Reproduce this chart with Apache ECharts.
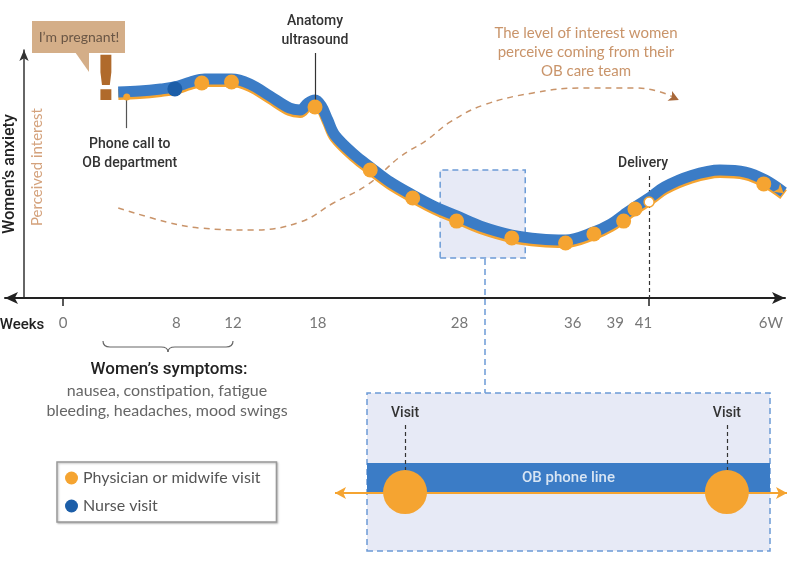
<!DOCTYPE html>
<html>
<head>
<meta charset="utf-8">
<script src="https://cdn.jsdelivr.net/npm/echarts@6/dist/echarts.min.js"></script>
<style>html,body{margin:0;padding:0;background:#fff;}#c{width:807px;height:561px;}</style>
</head>
<body>
<div id="c"></div>
<script>
// ---- data ----
const weekTicks = [0, 8, 12, 18, 28, 36, 39, 41, 50];
const weekLabels = ['0', '8', '12', '18', '28', '36', '39', '41', '6W'];

const curveWeeks   = [3.9, 5.4, 6.9, 7.9, 9.0, 10.0, 11.1, 11.9, 13.2, 14.6, 16.0, 16.75, 17.3, 17.8, 18.25, 18.7, 19.2, 20.6, 21.7, 23.1, 24.7, 26.3, 27.8, 29.5, 31.7, 33.7, 35.5, 37.5, 38.7, 39.6, 40.4, 41.5, 42.5, 44.3, 46.4, 48.2, 49.6, 50.9];
const curveAnxiety = [83.1, 83.5, 84.3, 85.1, 87.1, 88.3, 88.3, 88.3, 86.3, 81.5, 76.6, 75.8, 78.6, 79.8, 77.4, 71.8, 65.7, 57.7, 52.8, 46.8, 41.5, 36.7, 33.1, 29.0, 25.4, 23.8, 23.4, 26.6, 29.8, 33.5, 36.7, 40.7, 44.8, 49.2, 51.6, 50.8, 47.6, 42.7];

const interestWeeks  = [3.9, 7.35, 9.7, 13.4, 16.75, 19.1, 21.5, 23.8, 25.7, 27.35, 29.7, 33.2, 36.75, 40.3, 42.2, 43.5];
const interestValues = [36.3, 30.6, 28.2, 27.4, 30.6, 38.3, 45.6, 56.9, 63.7, 71.0, 77.8, 82.7, 84.7, 84.7, 83.1, 79.8];

const physicianWeeks  = [9.8, 11.9, 17.8, 21.7, 24.7, 27.8, 31.7, 35.5, 37.5, 39.6, 40.4, 49.5];
const physicianValues = [86.7, 87.1, 77.0, 51.6, 40.3, 31.0, 24.2, 22.2, 25.8, 31.0, 35.9, 46.0];
const nurseWeeks  = [7.9];
const nurseValues = [84.3];

const phoneCall = [4.5, 81.0];
const anatomy = [17.8, 79.8];
const delivery = [41.4, 38.7];
const zoomBox = [[26.64, 16.1], [32.65, 51.6]];

// inset (0-100 scale both ways)
const insetBox = [[7.08, 0], [96.24, 100]];
const phoneLine = [[7.08, 46.2], [96.24, 46.2]];
const orangeLine = [[0, 36.7], [100, 36.7]];
const insetVisits = [[15.5, 37.3], [86.7, 37.3]];

// ---- chart ----
const ORANGE = '#f5a431', BLUE = '#3b7cc6', NAVY = '#1c5ea8', TAN = '#c9946a';
const zip = (a, b) => a.map((v, i) => [v, b[i]]);
const labelMap = {};
weekTicks.forEach((t, i) => labelMap[t] = weekLabels[i]);

const chart = echarts.init(document.getElementById('c'), null, {renderer: 'canvas'});

function txt(x, y, text, o) {
  o = o || {};
  return {
    type: 'text', x: x, y: y, rotation: o.rotation || 0, z: 50,
    style: Object.assign({
      text: text, fill: o.fill || '#333',
      fontSize: o.fontSize || 14, fontFamily: o.fontFamily || 'Lato',
      fontWeight: o.fontWeight || 'normal',
      align: 'center', verticalAlign: 'middle',
      textAlign: 'center', textVerticalAlign: 'middle',
      lineHeight: o.lineHeight || 18
    }, o.style || {})
  };
}
const braceStyle = {fill: 'none', stroke: '#666', lineWidth: 1.2};
function bz(x1, y1, cx, cy, x2, y2) {
  return {type: 'bezierCurve', z: 40, shape: {x1: x1, y1: y1, cpx1: cx, cpy1: cy, x2: x2, y2: y2}, style: braceStyle};
}
function ln(x1, y1, x2, y2, style) {
  return {type: 'line', z: 40, shape: {x1: x1, y1: y1, x2: x2, y2: y2}, style: style || braceStyle};
}

const option = {
  animation: false,
  backgroundColor: '#fff',
  grid: [
    {left: 5, right: 22, top: 50, bottom: 263, outerBoundsMode: 'none', containLabel: false},
    {left: 335, top: 393, width: 452, height: 158, outerBoundsMode: 'none', containLabel: false}
  ],
  xAxis: [
    {
      type: 'value', gridIndex: 0, min: -4.1, max: 51,
      splitLine: {show: false},
      axisLine: {onZero: false, symbol: ['arrow', 'arrow'], symbolSize: [9, 13], lineStyle: {color: '#222', width: 2}},
      axisTick: {show: true, customValues: [0, 41.4], length: 8, lineStyle: {color: '#222', width: 1.5}},
      axisLabel: {customValues: weekTicks, formatter: v => labelMap[v] || '', color: '#777', fontFamily: 'Lato', fontSize: 15, margin: 18}
    },
    {type: 'value', gridIndex: 1, min: 0, max: 100, show: false}
  ],
  yAxis: [
    {
      type: 'value', gridIndex: 0, min: 0, max: 100, offset: -19,
      splitLine: {show: false}, axisTick: {show: false}, axisLabel: {show: false},
      axisLine: {show: true, onZero: false, symbol: ['none', 'arrow'], symbolSize: [7, 11], lineStyle: {color: '#333', width: 1.5}},
      name: 'Women\u2019s anxiety', nameLocation: 'middle', nameGap: 6, nameRotate: 90,
      nameTextStyle: {fontFamily: 'Roboto', fontWeight: 500, fontSize: 16, color: '#222'}
    },
    {type: 'value', gridIndex: 1, min: 0, max: 100, show: false}
  ],
  legend: {
    left: 57, top: 462, orient: 'vertical',
    data: ['Physician or midwife visit', 'Nurse visit'],
    icon: 'circle', itemWidth: 13, itemHeight: 13, itemGap: 12,
    padding: [8, 16, 8, 8],
    borderColor: '#999', borderWidth: 1.5, backgroundColor: '#fff',
    shadowColor: 'rgba(0,0,0,0.25)', shadowBlur: 2, shadowOffsetX: 1, shadowOffsetY: 1,
    textStyle: {color: '#555', fontFamily: 'Lato', fontSize: 16}
  },
  series: [
    {
      type: 'line', xAxisIndex: 0, yAxisIndex: 0, data: [], z: 1, silent: true,
      markArea: {
        silent: true,
        itemStyle: {color: '#e7eaf6', borderColor: '#6c9bd6', borderWidth: 1.5, borderType: [6, 4]},
        data: [[{coord: zoomBox[0]}, {coord: zoomBox[1]}]]
      }
    },
    {
      type: 'line', xAxisIndex: 0, yAxisIndex: 0, z: 2, smooth: 0.4, symbol: 'none',
      data: zip(interestWeeks, interestValues),
      lineStyle: {color: TAN, width: 1.5, type: [6, 5]}
    },
    {
      type: 'scatter', xAxisIndex: 0, yAxisIndex: 0, z: 2, symbol: 'arrow', symbolSize: [8, 10], symbolRotate: -115,
      data: [[interestWeeks[interestWeeks.length - 1], interestValues[interestValues.length - 1]]],
      itemStyle: {color: '#a8683a', opacity: 1}
    },
    {
      type: 'line', xAxisIndex: 0, yAxisIndex: 0, z: 3, smooth: 0.35, symbol: 'none',
      data: zip(curveWeeks, curveAnxiety),
      lineStyle: {color: BLUE, width: 11, cap: 'butt', shadowColor: ORANGE, shadowOffsetY: 2.5, shadowBlur: 0}
    },
    {
      type: 'scatter', xAxisIndex: 0, yAxisIndex: 0, z: 3, symbol: 'arrow', symbolSize: [8, 9], symbolRotate: -130,
      data: [[curveWeeks[curveWeeks.length - 1], curveAnxiety[curveAnxiety.length - 1] - 0.5]],
      itemStyle: {color: ORANGE, opacity: 1}
    },
    {
      name: 'Physician or midwife visit', type: 'scatter', xAxisIndex: 0, yAxisIndex: 0, z: 5,
      symbolSize: 15, itemStyle: {color: ORANGE, opacity: 1},
      data: zip(physicianWeeks, physicianValues),
      markLine: {
        silent: true, symbol: 'none',
        lineStyle: {color: '#333', width: 1.2, type: 'solid'},
        label: {show: true, position: 'start', distance: 3, formatter: 'Anatomy\nultrasound',
          fontFamily: 'Roboto', fontWeight: 500, fontSize: 14, color: '#333', lineHeight: 19},
        data: [[{coord: [anatomy[0], 98.8]}, {coord: [anatomy[0], anatomy[1]]}]]
      }
    },
    {
      name: 'Nurse visit', type: 'scatter', xAxisIndex: 0, yAxisIndex: 0, z: 5,
      symbolSize: 15, itemStyle: {color: NAVY, opacity: 1},
      data: zip(nurseWeeks, nurseValues)
    },
    {
      type: 'scatter', xAxisIndex: 0, yAxisIndex: 0, z: 5, symbolSize: 7,
      itemStyle: {color: ORANGE, opacity: 1},
      data: [phoneCall],
      label: {show: true, position: 'bottom', distance: 34, offset: [3, 0], formatter: 'Phone call to\nOB department',
        fontFamily: 'Roboto', fontWeight: 500, fontSize: 14, color: '#333', lineHeight: 19},
      markLine: {
        silent: true, symbol: 'none', label: {show: false},
        lineStyle: {color: '#555', width: 1.2, type: 'solid'},
        data: [[{coord: phoneCall}, {coord: [phoneCall[0], 68.5]}]]
      }
    },
    {
      type: 'scatter', xAxisIndex: 0, yAxisIndex: 0, z: 6, symbolSize: 10,
      itemStyle: {color: '#fff', borderColor: ORANGE, borderWidth: 1.5, opacity: 1},
      data: [delivery],
      markLine: {
        silent: true, symbol: 'none', z: 1,
        lineStyle: {color: '#333', width: 1.2, type: [4, 3]},
        label: {show: true, position: 'start', distance: 5, offset: [-6, 0], formatter: 'Delivery',
          fontFamily: 'Roboto', fontWeight: 500, fontSize: 14, color: '#333'},
        data: [[{coord: [delivery[0], 49.2]}, {coord: [delivery[0], 0]}]]
      }
    },
    {
      type: 'line', xAxisIndex: 1, yAxisIndex: 1, data: [], z: 1, silent: true,
      markArea: {
        silent: true,
        itemStyle: {color: '#e7eaf6', borderColor: '#6c9bd6', borderWidth: 1.5, borderType: [6, 4]},
        data: [[{coord: insetBox[0]}, {coord: insetBox[1]}]]
      }
    },
    {
      type: 'line', xAxisIndex: 1, yAxisIndex: 1, z: 2, symbol: 'none',
      data: phoneLine,
      lineStyle: {color: BLUE, width: 30, cap: 'butt'}
    },
    {
      type: 'scatter', xAxisIndex: 1, yAxisIndex: 1, z: 3, symbolSize: 1,
      itemStyle: {color: 'rgba(0,0,0,0)'},
      data: [[(phoneLine[0][0] + phoneLine[1][0]) / 2, phoneLine[0][1]]],
      label: {show: true, position: 'inside', formatter: 'OB phone line', color: '#fff',
        fontFamily: 'Roboto', fontWeight: 500, fontSize: 15}
    },
    {
      type: 'line', xAxisIndex: 1, yAxisIndex: 1, z: 3, data: [],
      markLine: {
        silent: true, symbol: ['arrow', 'arrow'], symbolSize: [9, 11], label: {show: false},
        lineStyle: {color: ORANGE, width: 2, type: 'solid'},
        data: [[{coord: orangeLine[0]}, {coord: orangeLine[1]}]]
      }
    },
    {
      type: 'scatter', xAxisIndex: 1, yAxisIndex: 1, z: 4, symbolSize: 44,
      itemStyle: {color: ORANGE, opacity: 1},
      data: insetVisits,
      markLine: {
        silent: true, symbol: 'none',
        lineStyle: {color: '#333', width: 1.2, type: [4, 3]},
        label: {show: true, position: 'start', distance: 5, formatter: 'Visit',
          fontFamily: 'Roboto', fontWeight: 500, fontSize: 14, color: '#333'},
        data: insetVisits.map(p => [{coord: [p[0], 79.7]}, {coord: [p[0], 51.3]}])
      }
    }
  ],
  graphic: [
    {type: 'rect', z: 40, shape: {x: 32, y: 21, width: 93, height: 32}, style: {fill: '#d4ae88'}},
    {type: 'polygon', z: 40, shape: {points: [[75, 52], [89, 52], [89, 72]]}, style: {fill: '#d4ae88'}},
    txt(79, 37, 'I\u2019m pregnant!', {fill: '#6a5645', fontSize: 14}),
    txt(106, 84, '!', {fill: '#b06a2c', fontSize: 62, fontFamily: 'DejaVu Sans', fontWeight: 'bold', lineHeight: 64}),
    txt(22, 325, 'Weeks', {fill: '#222', fontFamily: 'Roboto', fontWeight: 500, fontSize: 15}),
    txt(37, 167, 'Perceived interest', {fill: '#d4a27c', fontSize: 15, rotation: Math.PI / 2}),
    txt(586, 52, 'The level of interest women\nperceive coming from their\nOB care team', {fill: TAN, fontSize: 15, lineHeight: 19}),
    bz(103, 341, 103, 347, 110, 347),
    ln(110, 347, 161, 347),
    bz(161, 347, 168, 347, 168, 352),
    bz(168, 352, 168, 347, 175, 347),
    ln(175, 347, 226, 347),
    bz(226, 347, 233, 347, 233, 341),
    txt(169, 370, 'Women\u2019s symptoms:', {fill: '#222', fontFamily: 'Roboto', fontWeight: 500, fontSize: 17}),
    txt(167, 391, 'nausea, constipation, fatigue', {fill: '#666', fontSize: 16}),
    txt(167, 411, 'bleeding, headaches, mood swings', {fill: '#666', fontSize: 16}),
    ln(485, 259, 485, 393, {stroke: '#6c9bd6', lineWidth: 1.5, lineDash: [6, 4]})
  ]
};
chart.setOption(option);
</script>
</body>
</html>
